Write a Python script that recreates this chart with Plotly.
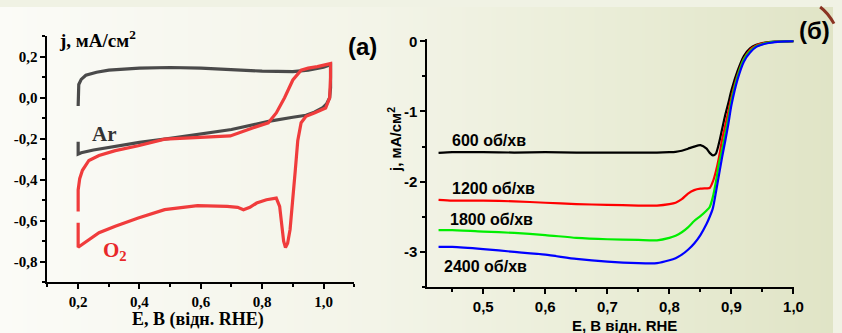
import base64, struct, zlib
import plotly.graph_objects as go

# ---------------- data: panel (a) cyclic voltammograms ----------------
ar_E = [0.2, 0.2, 0.202, 0.21, 0.225, 0.26, 0.3, 0.4, 0.5, 0.6, 0.7, 0.8, 0.9, 0.95, 1.0, 1.023,
        1.023, 1.02, 1.01, 0.996, 0.97, 0.943, 0.9, 0.825, 0.7, 0.6, 0.5, 0.4, 0.3, 0.25, 0.21, 0.2, 0.2]
ar_j = [-0.04, 0.03, 0.065, 0.09, 0.11, 0.125, 0.135, 0.145, 0.148, 0.145, 0.137, 0.13, 0.128, 0.135, 0.15, 0.162,
        0.05, 0.0, -0.03, -0.05, -0.07, -0.085, -0.095, -0.114, -0.155, -0.178, -0.198, -0.218, -0.242, -0.255, -0.268, -0.275, -0.215]

o2_E = [0.2, 0.2, 0.205, 0.214, 0.235, 0.268, 0.321, 0.396, 0.482, 0.589, 0.696, 0.771, 0.82, 0.846, 0.873, 0.9, 0.927,
        0.95, 0.98, 1.023, 1.023, 1.02, 1.007, 0.97, 0.943, 0.927, 0.916, 0.908, 0.9, 0.891, 0.883, 0.876, 0.87, 0.866,
        0.857, 0.846, 0.814, 0.782, 0.76, 0.739, 0.72, 0.686, 0.589, 0.482, 0.396, 0.321, 0.268, 0.2, 0.2]
o2_j = [-0.555, -0.45, -0.395, -0.354, -0.306, -0.282, -0.258, -0.234, -0.202, -0.194, -0.186, -0.146, -0.122, -0.074,
        0.0, 0.087, 0.135, 0.145, 0.152, 0.167, 0.1, 0.0, -0.05, -0.074, -0.09, -0.122, -0.21, -0.354, -0.514, -0.643,
        -0.71, -0.731, -0.7, -0.643, -0.53, -0.49, -0.498, -0.514, -0.535, -0.547, -0.535, -0.53, -0.527, -0.546,
        -0.587, -0.627, -0.659, -0.73, -0.61]

a_xticks = [0.2, 0.4, 0.6, 0.8, 1.0]
a_xticktext = ["0,2", "0,4", "0,6", "0,8", "1,0"]
a_xminor = [0.1, 0.3, 0.5, 0.7, 0.9, 1.1]
a_yticks = [-0.8, -0.6, -0.4, -0.2, 0.0, 0.2]
a_yticktext = ["-0,8", "-0,6", "-0,4", "-0,2", "0,0", "0,2"]
a_yminor = [-0.9, -0.7, -0.5, -0.3, -0.1, 0.1, 0.3]

# ---------------- data: panel (b) linear sweep voltammograms ----------------
b_E = [0.428, 0.45, 0.5, 0.55, 0.6, 0.65, 0.7, 0.75, 0.78, 0.8, 0.81, 0.82, 0.83, 0.84, 0.85, 0.86, 0.865, 0.87,
       0.875, 0.88, 0.885, 0.89, 0.895, 0.9, 0.91, 0.92, 0.93, 0.94, 0.95, 0.96, 0.97, 0.98, 0.99, 1.0]
j_600 = [-1.59, -1.58, -1.58, -1.585, -1.58, -1.585, -1.585, -1.585, -1.585, -1.58, -1.575, -1.56, -1.53, -1.5,
         -1.48, -1.53, -1.59, -1.625, -1.6, -1.45, -1.25, -1.05, -0.88, -0.7, -0.42, -0.21, -0.1, -0.05, -0.025,
         -0.012, -0.006, -0.003, -0.001, 0.0]
j_1200 = [-2.26, -2.27, -2.27, -2.28, -2.3, -2.32, -2.33, -2.34, -2.34, -2.32, -2.3, -2.25, -2.17, -2.12, -2.1,
          -2.095, -2.09, -2.0, -1.85, -1.65, -1.4, -1.2, -1.0, -0.8, -0.48, -0.25, -0.12, -0.06, -0.03, -0.015,
          -0.007, -0.003, -0.001, 0.0]
j_1800 = [-2.69, -2.69, -2.71, -2.73, -2.76, -2.8, -2.82, -2.83, -2.835, -2.8, -2.77, -2.72, -2.65, -2.56, -2.49,
          -2.41, -2.36, -2.22, -2.0, -1.74, -1.55, -1.32, -1.1, -0.85, -0.5, -0.26, -0.14, -0.07, -0.04, -0.02,
          -0.01, -0.004, -0.001, 0.0]
j_2400 = [-2.93, -2.93, -2.96, -3.0, -3.04, -3.1, -3.14, -3.16, -3.16, -3.12, -3.09, -3.04, -2.97, -2.88, -2.76,
          -2.6, -2.5, -2.38, -2.15, -1.9, -1.65, -1.42, -1.18, -0.91, -0.54, -0.29, -0.16, -0.08, -0.045, -0.025,
          -0.012, -0.005, -0.002, 0.0]
b_series = [("600 об/хв", j_600, "#000000"), ("1200 об/хв", j_1200, "#ff0000"),
            ("1800 об/хв", j_1800, "#00ee00"), ("2400 об/хв", j_2400, "#0000ff")]

b_xticks = [0.5, 0.6, 0.7, 0.8, 0.9, 1.0]
b_xticktext = ["0,5", "0,6", "0,7", "0,8", "0,9", "1,0"]
b_xminor = [0.45, 0.55, 0.65, 0.75, 0.85, 0.95]
b_yticks = [-3, -2, -1, 0]
b_yticktext = ["-3", "-2", "-1", "0"]
b_yminor = [-3.5, -2.5, -1.5, -0.5]


# ---------------- background gradient (generated PNG) ----------------
def gradient_png(width, stops):
    row = bytearray([0])
    for i in range(width):
        t = i / (width - 1)
        for k in range(len(stops) - 1):
            t0, c0 = stops[k]
            t1, c1 = stops[k + 1]
            if t0 <= t <= t1:
                f = (t - t0) / (t1 - t0)
                row += bytes(int(round(c0[m] + (c1[m] - c0[m]) * f)) for m in range(3))
                break
    raw = bytes(row)

    def chunk(tag, data):
        c = tag + data
        return struct.pack(">I", len(data)) + c + struct.pack(">I", zlib.crc32(c) & 0xffffffff)

    png = b"\x89PNG\r\n\x1a\n" + chunk(b"IHDR", struct.pack(">IIBBBBB", width, 1, 8, 2, 0, 0, 0)) \
        + chunk(b"IDAT", zlib.compress(raw)) + chunk(b"IEND", b"")
    return "data:image/png;base64," + base64.b64encode(png).decode()


bg = gradient_png(842, [(0.0, (251, 251, 247)), (0.45, (243, 244, 232)),
                        (0.7, (235, 238, 217)), (1.0, (224, 228, 198))])

W, H = 842, 333
def px(x):
    return x / W
def py(y):
    return 1 - y / H

SERIF = "Liberation Serif"
SANS = "Liberation Sans"

fig = go.Figure()

fig.add_trace(go.Scatter(x=ar_E, y=ar_j, mode="lines", line=dict(color="#4a4a4a", width=3.2),
                         xaxis="x", yaxis="y", showlegend=False))
fig.add_trace(go.Scatter(x=o2_E, y=o2_j, mode="lines", line=dict(color="#f03c3c", width=3.2),
                         xaxis="x", yaxis="y", showlegend=False))

for name, j, col in b_series:
    fig.add_trace(go.Scatter(x=b_E, y=j, mode="lines", name=name,
                             line=dict(color=col, width=2.2, shape="spline", smoothing=0.6),
                             xaxis="x2", yaxis="y2", showlegend=False))

axis_common = dict(showgrid=False, zeroline=False, showline=True, linecolor="black", linewidth=2,
                   ticks="outside", ticklen=5, tickwidth=2, tickcolor="black", tickmode="array")

fig.update_layout(
    width=W, height=H, autosize=False,
    margin=dict(l=0, r=0, t=0, b=0),
    paper_bgcolor="#f0f2e4", plot_bgcolor="rgba(0,0,0,0)",
    images=[dict(source=bg, xref="paper", yref="paper", x=0, y=1, sizex=1, sizey=1,
                 sizing="stretch", xanchor="left", yanchor="top", layer="below")],
    xaxis=dict(axis_common, domain=[px(48), px(358)], range=[0.1, 1.1], anchor="y",
               tickvals=a_xticks, ticktext=a_xticktext,
               tickfont=dict(family=SERIF, size=15, color="black", weight="bold"),
               minor=dict(tickmode="array", tickvals=a_xminor, ticks="outside", ticklen=3, tickwidth=1.5, tickcolor="black")),
    yaxis=dict(axis_common, domain=[py(281), py(30)], range=[-0.9, 0.3], anchor="x",
               tickvals=a_yticks, ticktext=a_yticktext,
               tickfont=dict(family=SERIF, size=15, color="black", weight="bold"),
               minor=dict(tickmode="array", tickvals=a_yminor, ticks="outside", ticklen=3, tickwidth=1.5, tickcolor="black")),
    xaxis2=dict(axis_common, domain=[px(432), px(803)], range=[0.41, 1.0015], anchor="y2",
                tickvals=b_xticks, ticktext=b_xticktext,
                tickfont=dict(family=SANS, size=15, color="black", weight="bold"),
                minor=dict(tickmode="array", tickvals=b_xminor, ticks="outside", ticklen=3, tickwidth=1.5, tickcolor="black")),
    yaxis2=dict(axis_common, domain=[py(286), py(32.85)], range=[-3.5, 0.03], anchor="x2",
                tickvals=b_yticks, ticktext=b_yticktext,
                tickfont=dict(family=SANS, size=15, color="black", weight="bold"),
                minor=dict(tickmode="array", tickvals=b_yminor, ticks="outside", ticklen=3, tickwidth=1.5, tickcolor="black")),
)

ann = []
def txt(x, y, s, fam, size, color="black", angle=0, xanchor="center"):
    ann.append(dict(x=px(x), y=py(y), xref="paper", yref="paper", text=s, showarrow=False,
                    font=dict(family=fam, size=size, color=color, weight="bold"),
                    xanchor=xanchor, yanchor="middle", textangle=angle))

# panel (a) texts
txt(58, 33, "j, мА/см<sup>2</sup>", SERIF, 19, xanchor="left")
txt(200, 319, "E, В (відн. RHE)", SERIF, 18)
txt(106, 130, "Ar", SERIF, 21, color="#333333")
txt(116, 249, "O<sub>2</sub>", SERIF, 21, color="#e8282a")
txt(366, 40, "(a)", SANS, 24)
# panel (b) texts
txt(398, 135, "j, мА/см<sup>2</sup>", SANS, 15, angle=-90)
txt(631, 325, "Е, В відн. RHE", SANS, 15)
txt(823, 24, "(б)", SANS, 24)
txt(455, 136, b_series[0][0], SANS, 16, xanchor="left")
txt(455, 185, b_series[1][0], SANS, 16, xanchor="left")
txt(453, 217, b_series[2][0], SANS, 16, xanchor="left")
txt(447, 265, b_series[3][0], SANS, 16, xanchor="left")
fig.update_layout(annotations=ann)

# decorative arc at the top-right corner
fig.add_shape(type="path", xref="paper", yref="paper",
              path=f"M {px(829)} 1 Q {px(837)} {py(6)} {px(843)} {py(17)}",
              line=dict(color="#8a3322", width=3))

fig.write_html("out.html", config={"displayModeBar": False},
               post_script="document.body.style.margin='0';document.body.style.overflow='hidden';")
